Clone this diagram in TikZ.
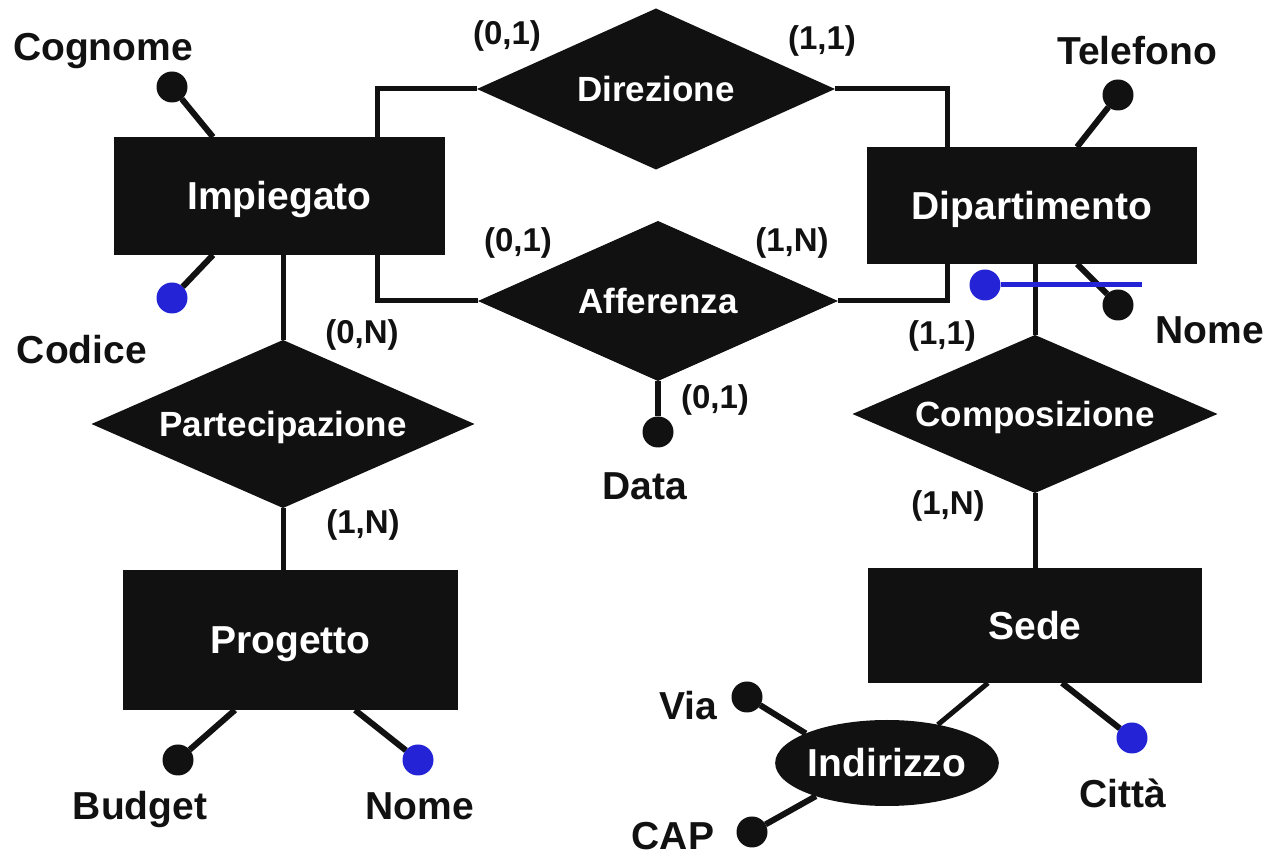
\documentclass[tikz,border=0pt]{standalone}
\usepackage{fontspec}
\setmainfont{Liberation Sans}
\usetikzlibrary{shapes.geometric,calc}
\definecolor{erfill}{RGB}{17,17,17}
\definecolor{keyblue}{RGB}{36,36,214}
\begin{document}
\begin{tikzpicture}[x=0.5pt,y=-0.5pt,
  entity/.style={rectangle, fill=erfill, text=white, inner sep=0pt, outer sep=0pt,
    font=\bfseries\fontsize{19.5}{22}\selectfont, text height=14pt, text depth=0pt},
  relation/.style={diamond, aspect=2.3, fill=erfill, text=white, inner sep=0pt, outer sep=0pt,
    font=\bfseries\fontsize{17.5}{20}\selectfont, text height=12.5pt, text depth=0pt},
  composite/.style={ellipse, fill=erfill, text=white, inner sep=0pt, outer sep=0pt,
    font=\bfseries\fontsize{19.5}{22}\selectfont, text height=14pt, text depth=0pt},
  attr/.style={circle, fill=erfill, minimum size=15.5pt, inner sep=0pt, outer sep=0pt},
  keyattr/.style={attr, fill=keyblue},
  lbl/.style={inner sep=0pt, font=\bfseries\fontsize{19.5}{22}\selectfont,
    text=erfill, text height=14pt, text depth=0pt},
  card/.style={inner sep=0pt, font=\bfseries\fontsize{16.5}{19}\selectfont,
    text=erfill, text height=11.8pt, text depth=0pt},
  link/.style={draw=erfill, line width=2.5pt},
  stalk/.style={draw=erfill, line width=3pt},
  keyline/.style={draw=keyblue, line width=2.5pt}
]
\useasboundingbox (0,0) rectangle (1271,860);

% entities
\node[entity, minimum width=165.5pt, minimum height=59pt] (imp) at (279.5,196) {Impiegato};
\node[entity, minimum width=165pt, minimum height=58.5pt] (dip) at (1032,205.5) {Dipartimento};
\node[entity, minimum width=167.5pt, minimum height=70pt] (pro) at (290.5,640) {Progetto};
\node[entity, minimum width=167pt, minimum height=57.5pt] (sede) at (1035,625.5) {Sede};

% relationships
\node[relation, minimum width=179pt, minimum height=80.5pt] (dir) at (656,89) {Direzione};
\node[relation, minimum width=180pt, minimum height=80pt] (aff) at (658,301) {Afferenza};
\node[relation, minimum width=191.5pt, minimum height=84pt] (par) at (283,424) {Partecipazione};
\node[relation, minimum width=182.5pt, minimum height=79pt] (comp) at (1035,414) {Composizione};

% composite attribute
\node[composite, minimum width=110.5pt, minimum height=43pt] (ind) at (887,763) {Indirizzo};

% connectors between entities and relationships
\draw[link] ($(imp.north east)+(-68,0)$) |- (dir.west);
\draw[link] (dir.east) -| ($(dip.north west)+(80,0)$);
\draw[link] ($(imp.south east)+(-68,0)$) |- (aff.west);
\draw[link] (aff.east) -| ($(dip.south west)+(80,0)$);
\draw[link] (par.north |- imp.south) -- (par.north);
\draw[link] (par.south) -- (par.south |- pro.north);
\draw[link] (comp.north |- dip.south) -- (comp.north);
\draw[link] (comp.south) -- (comp.south |- sede.north);
\draw[link] ($(sede.south west)+(120,0)$) -- (ind.37);

% attribute dots
\node[attr] (cogD) at (172,87) {};
\node[keyattr] (codD) at (172,298) {};
\node[attr] (telD) at (1118,95) {};
\node[keyattr] (dkey) at (985,285) {};
\node[attr] (dnomD) at (1118,305) {};
\node[attr] (datD) at (658,432) {};
\node[attr] (budD) at (178,760) {};
\node[keyattr] (pnomD) at (418,760) {};
\node[keyattr] (citD) at (1132,738) {};
\node[attr] (viaD) at (747,697) {};
\node[attr] (capD) at (752,832) {};
\coordinate (dkeyEnd) at (1142,285);

% attribute stalks
\draw[stalk] ($(imp.north west)+(99,0)$) -- (cogD);
\draw[stalk] ($(imp.south west)+(99,0)$) -- (codD);
\draw[stalk] ($(dip.north west)+(210,0)$) -- (telD);
\draw[stalk] ($(dip.south west)+(210,0)$) -- (dnomD);
\draw[keyline] (dkey) -- (dkeyEnd);
\draw[stalk] (aff.south) -- (datD);
\draw[stalk] ($(pro.south west)+(112,0)$) -- (budD);
\draw[stalk] ($(pro.south west)+(232,0)$) -- (pnomD);
\draw[stalk] ($(sede.south west)+(194,0)$) -- (citD);
\draw[stalk] (ind.160) -- (viaD);
\draw[stalk] (ind.205) -- (capD);

% attribute names
\node[lbl] (cogL) at (103,47) {Cognome};
\node[lbl] (codL) at (82,350) {Codice};
\node[lbl] (telL) at (1137,51) {Telefono};
\node[lbl] (dnomL) at (1210,330) {Nome};
\node[lbl] (datL) at (645,486) {Data};
\node[lbl] (budL) at (140,806) {Budget};
\node[lbl] (pnomL) at (420,806) {Nome};
\node[lbl] (viaL) at (688,706) {Via};
\node[lbl] (citL) at (1123,794) {Città};
\node[lbl] (capL) at (673,836) {CAP};

% cardinalities
\node[card] (c1) at (507,33) {(0,1)};
\node[card] (c2) at (822,38) {(1,1)};
\node[card] (c3) at (518,240) {(0,1)};
\node[card] (c4) at (792,240) {(1,N)};
\node[card] (c5) at (362,332) {(0,N)};
\node[card] (c6) at (363,522) {(1,N)};
\node[card] (c7) at (942,333) {(1,1)};
\node[card] (c8) at (948,503) {(1,N)};
\node[card] (c9) at (715,397) {(0,1)};
\end{tikzpicture}
\end{document}
